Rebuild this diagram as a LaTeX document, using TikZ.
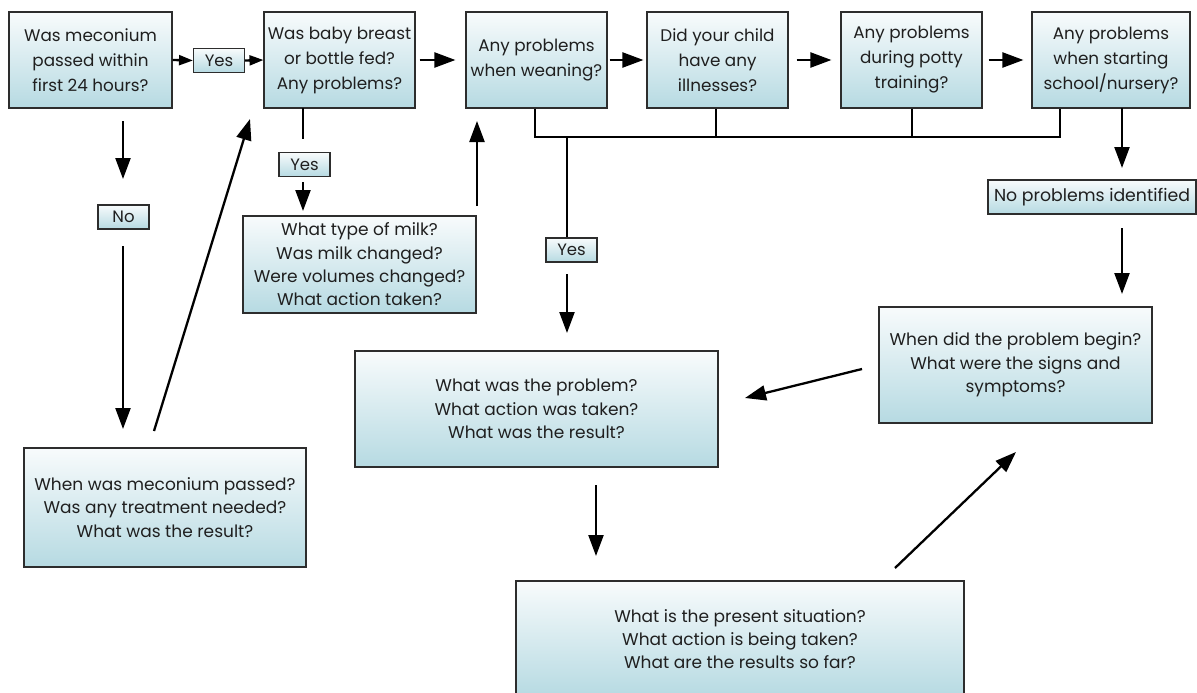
\documentclass[tikz,border=0pt]{standalone}
\usepackage{fontspec}
\setmainfont{Poppins}
\usetikzlibrary{arrows.meta,calc}
\definecolor{topc}{RGB}{248,251,252}
\definecolor{botc}{RGB}{182,218,226}
\definecolor{edgec}{RGB}{45,45,45}
\begin{document}
\begin{tikzpicture}[x=1pt,y=-1pt,
  box/.style={draw=edgec, line width=1.1pt, top color=topc, bottom color=botc,
    align=center, inner sep=1pt, text=black!88},
  bigtxt/.style={font=\fontsize{16.8}{25}\selectfont},
  smtxt/.style={font=\fontsize{17}{23.3}\selectfont},
  lbl/.style={box, font=\fontsize{16.5}{18}\selectfont, minimum width=51pt, minimum height=24pt},
  arr/.style={line width=2.3pt, -{Triangle[length=21pt,width=15pt]}},
  arrs/.style={line width=2.3pt, -{Triangle[length=14pt,width=10pt]}},
  ln/.style={line width=2.3pt}]
\clip (0,0) rectangle (1197,693);
\useasboundingbox (0,0) rectangle (1197,693);

% top row
\node[box,bigtxt,minimum width=163pt,minimum height=96pt] (b1) at (90.5,60) {Was meconium\\passed within\\first 24 hours?};
\node[lbl] (y1) at (219,60.5) {Yes};
\node[box,bigtxt,minimum width=151pt,minimum height=96pt] (b2) at (339.5,60) {Was baby breast\\or bottle fed?\\Any problems?};
\node[box,bigtxt,minimum width=141pt,minimum height=96pt] (b3) at (536.5,60) {Any problems\\when weaning?};
\node[box,bigtxt,minimum width=141pt,minimum height=96pt] (b4) at (717.5,60) {Did your child\\have any\\illnesses?};
\node[box,bigtxt,minimum width=141pt,minimum height=96pt] (b5) at (911.5,60) {Any problems\\during potty\\training?};
\node[box,bigtxt,minimum width=158pt,minimum height=96pt] (b6) at (1111,60) {Any problems\\when starting\\school/nursery?};

% labels and other boxes
\node[lbl] (no) at (123.5,217) {No};
\node[lbl] (y2) at (304.5,164.5) {Yes};
\node[lbl] (y3) at (571.5,250) {Yes};
\node[box,font=\fontsize{17.3}{20}\selectfont,minimum width=208pt,minimum height=34pt] (np) at (1092,197) {No problems identified};
\node[box,smtxt,minimum width=233pt,minimum height=97pt] (milk) at (359.5,264.5) {What type of milk?\\Was milk changed?\\Were volumes changed?\\What action taken?};
\node[box,smtxt,minimum width=282pt,minimum height=119pt] (left) at (165,507.5) {When was meconium passed?\\Was any treatment needed?\\What was the result?};
\node[box,smtxt,minimum width=363pt,minimum height=116pt] (mid) at (536.5,409) {What was the problem?\\What action was taken?\\What was the result?};
\node[box,smtxt,minimum width=273pt,minimum height=116pt] (rb) at (1015.5,365) {When did the problem begin?\\What were the signs and\\symptoms?};
\node[box,smtxt,minimum width=448pt,minimum height=116pt] (bot) at (740,639) {What is the present situation?\\What action is being taken?\\What are the results so far?};

% connector end points
\coordinate (busL) at (535,137);
\coordinate (busY) at (567,137);
\coordinate (busR) at (1060,137);
\coordinate (a3s) at (567,274);
\coordinate (a3e) at (567,333);
\coordinate (a6s) at (1122,108);
\coordinate (a6e) at (1122,168);
\coordinate (anps) at (1122,228);
\coordinate (anpe) at (1122,294);
\coordinate (arbs) at (862,369);
\coordinate (arbe) at (745,398);
\coordinate (amids) at (596,485);
\coordinate (amide) at (596,556);
\coordinate (abots) at (895,568);
\coordinate (abote) at (1016,452);
\coordinate (a1s) at (123,121);
\coordinate (a1e) at (123,179);
\coordinate (anos) at (123,246);
\coordinate (anoe) at (123,429);
\coordinate (alefts) at (154,431);
\coordinate (alefte) at (250,119);
\coordinate (a2s) at (303,108);
\coordinate (a2e) at (303,139);
\coordinate (ay2s) at (303,182);
\coordinate (ay2e) at (303,211);
\coordinate (amilks) at (477,206);
\coordinate (amilke) at (477,121);

% top row arrows
\draw[arrs] (b1.east) -- (y1.west);
\draw[arrs] (y1.east) -- (b2.west);
\draw[arr, shorten <=4pt, shorten >=10pt] (b2.east) -- (b3.west);
\draw[arr, shorten <=2pt, shorten >=3pt] (b3.east) -- (b4.west);
\draw[arr, shorten <=8pt, shorten >=9pt] (b4.east) -- (b5.west);
\draw[arr, shorten <=6pt, shorten >=8pt] (b5.east) -- (b6.west);

% bus
\draw[ln] (b3.south -| busL) -- (busL) -- (busR) -- (b6.south -| busR);
\draw[ln] (b4.south -| 716,0) -- (716,137);
\draw[ln] (b5.south -| 912,0) -- (912,137);
\draw[ln] (busY) -- (y3.north -| busY);
\draw[arr] (a3s) -- (a3e);

% right side
\draw[arr] (a6s) -- (a6e);
\draw[arr] (anps) -- (anpe);
\draw[arr] (arbs) -- (arbe);
\draw[arr] (amids) -- (amide);
\draw[arr] (abots) -- (abote);

% left side
\draw[arr] (a1s) -- (a1e);
\draw[arr] (anos) -- (anoe);
\draw[arr] (alefts) -- (alefte);
\draw[ln] (a2s) -- (a2e);
\draw[arr] (ay2s) -- (ay2e);
\draw[arr] (amilks) -- (amilke);
\end{tikzpicture}
\end{document}
